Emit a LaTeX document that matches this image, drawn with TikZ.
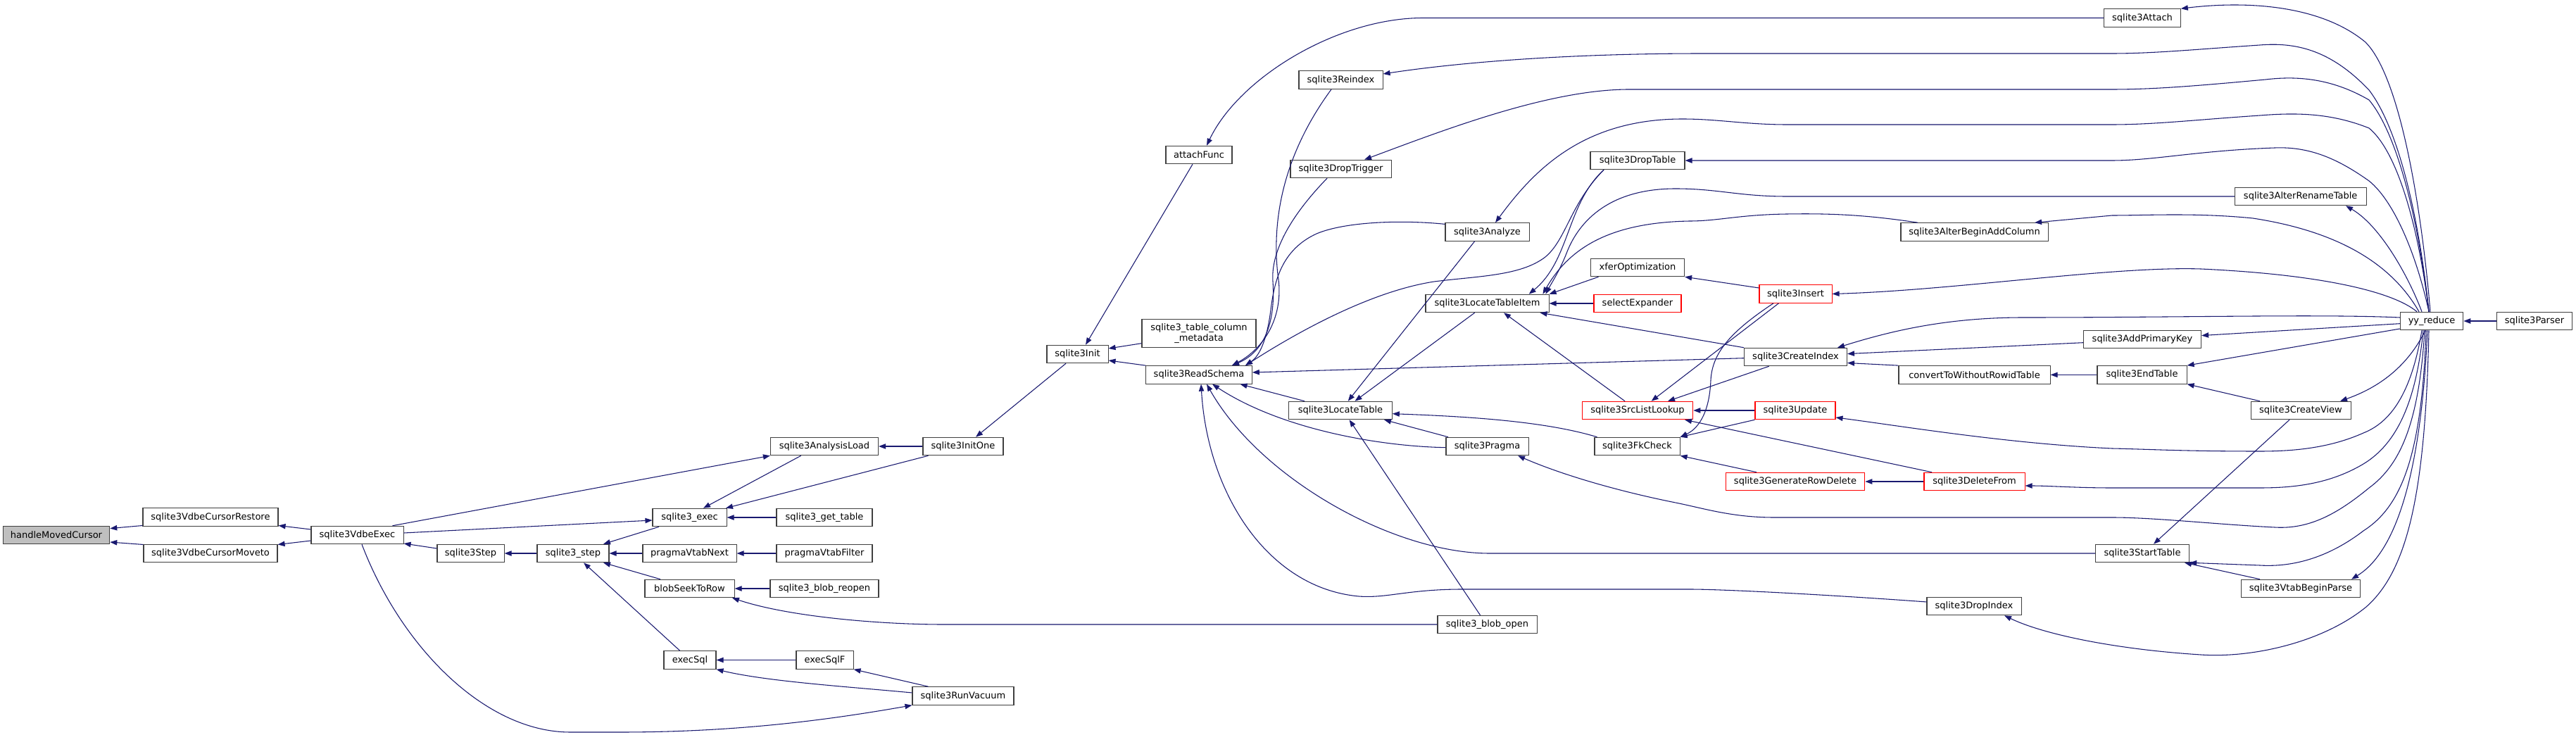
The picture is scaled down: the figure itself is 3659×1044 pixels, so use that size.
\documentclass[tikz,border=0pt]{standalone}
\usepackage{fontspec}
\setmainfont{DejaVu Sans}
\usetikzlibrary{arrows.meta}
\definecolor{edgec}{HTML}{191970}
\definecolor{boxc}{HTML}{404040}
\definecolor{grayf}{HTML}{BFBFBF}
\definecolor{redc}{HTML}{FF0000}
\newcommand\dgfont{\fontsize{9.75}{11}\selectfont}
\begin{document}
\begin{tikzpicture}[x=0.75pt,y=-0.75pt,
  bx/.style={draw=boxc,fill=white,line width=0.8pt,minimum height=19.1pt,inner sep=0pt,font=\dgfont},
  rbx/.style={bx,draw=redc},
  gbx/.style={bx,fill=grayf},
  edg/.style={draw=edgec,line width=0.8pt,-{Triangle[length=7.5pt,width=5.5pt]}}]
\fill[white] (0,0) rectangle (3659,1044);
\useasboundingbox (0,0) rectangle (3659,1044);
% nodes
\node[gbx,minimum width=113.6pt] (hmc) at (80,760) {handleMovedCursor};
\node[bx,minimum width=144pt] (cres) at (299,734.5) {sqlite3VdbeCursorRestore};
\node[bx,minimum width=142.5pt] (cmov) at (299,786) {sqlite3VdbeCursorMoveto};
\node[bx,minimum width=98.3pt] (vexec) at (507.5,760) {sqlite3VdbeExec};
\node[bx,minimum width=71.3pt] (step) at (668.5,786) {sqlite3Step};
\node[bx,minimum width=76.5pt] (ustep) at (814,786) {sqlite3\_step};
\node[bx,minimum width=78.8pt] (uexec) at (979.5,735) {sqlite3\_exec};
\node[bx,minimum width=99.8pt] (vnext) at (979.5,786) {pragmaVtabNext};
\node[bx,minimum width=95.3pt] (bseek) at (979.5,836) {blobSeekToRow};
\node[bx,minimum width=55.5pt] (esql) at (980,937.5) {execSql};
\node[bx,minimum width=114.8pt] (aload) at (1171,634) {sqlite3AnalysisLoad};
\node[bx,minimum width=102pt] (gett) at (1171,735) {sqlite3\_get\_table};
\node[bx,minimum width=102pt] (vfilt) at (1171,786) {pragmaVtabFilter};
\node[bx,minimum width=115.5pt] (breo) at (1171,836) {sqlite3\_blob\_reopen};
\node[bx,minimum width=60.8pt] (esqlf) at (1171.5,937.5) {execSqlF};
\node[bx,minimum width=85.5pt] (initone) at (1368,634) {sqlite3InitOne};
\node[bx,minimum width=108pt] (vac) at (1368,988.5) {sqlite3RunVacuum};
\node[bx,minimum width=65.3pt] (init) at (1530.5,503) {sqlite3Init};
\node[bx,minimum width=112.9pt] (rs) at (1703,532.4) {sqlite3ReadSchema};
\node[bx,minimum width=70.5pt] (af) at (1703,220) {attachFunc};
\node[bx,minimum width=121.5pt,minimum height=30pt,align=center] (meta) at (1703,473.5) {sqlite3\_table\_column\\\_metadata};
\node[bx,minimum width=89.3pt] (reidx) at (1904.5,113.7) {sqlite3Reindex};
\node[bx,minimum width=107.3pt] (dtrig) at (1904.5,240) {sqlite3DropTrigger};
\node[bx,minimum width=109.9pt] (lt) at (1904,583) {sqlite3LocateTable};
\node[bx,minimum width=89.3pt] (ana) at (2112.5,329.5) {sqlite3Analyze};
\node[bx,minimum width=131.3pt] (lti) at (2112.5,431) {sqlite3LocateTableItem};
\node[bx,minimum width=87.8pt] (prag) at (2112.5,634) {sqlite3Pragma};
\node[bx,minimum width=105.8pt] (bopen) at (2112.5,887) {sqlite3\_blob\_open};
\node[bx,minimum width=100.5pt] (dtab) at (2326,228) {sqlite3DropTable};
\node[bx,minimum width=99.8pt] (xfer) at (2326,380) {xferOptimization};
\node[rbx,minimum width=93pt] (sel) at (2326,431) {selectExpander};
\node[rbx,minimum width=118.1pt] (srcl) at (2326,583) {sqlite3SrcListLookup};
\node[bx,minimum width=90.8pt] (fk) at (2325.5,634) {sqlite3FkCheck};
\node[rbx,minimum width=77.3pt] (ins) at (2550.5,417.5) {sqlite3Insert};
\node[bx,minimum width=109.5pt] (cidx) at (2550.5,507) {sqlite3CreateIndex};
\node[rbx,minimum width=85.5pt] (upd) at (2550,583) {sqlite3Update};
\node[rbx,minimum width=148.1pt] (grd) at (2550,684) {sqlite3GenerateRowDelete};
\node[bx,minimum width=156.8pt] (abac) at (2804.5,329.5) {sqlite3AlterBeginAddColumn};
\node[bx,minimum width=161.3pt] (conv) at (2804.5,532.4) {convertToWithoutRowidTable};
\node[rbx,minimum width=107.3pt] (del) at (2804.5,684) {sqlite3DeleteFrom};
\node[bx,minimum width=100.5pt] (didx) at (2804,861) {sqlite3DropIndex};
\node[bx,minimum width=81.4pt] (att) at (3043,25.5) {sqlite3Attach};
\node[bx,minimum width=125.3pt] (apk) at (3043,482) {sqlite3AddPrimaryKey};
\node[bx,minimum width=95.3pt] (etab) at (3042.5,532.4) {sqlite3EndTable};
\node[bx,minimum width=100.1pt] (stab) at (3043,786) {sqlite3StartTable};
\node[bx,minimum width=140pt] (art) at (3267.7,279) {sqlite3AlterRenameTable};
\node[bx,minimum width=106.5pt] (cview) at (3268,583) {sqlite3CreateView};
\node[bx,minimum width=127.2pt] (vbp) at (3268,836) {sqlite3VtabBeginParse};
\node[bx,minimum width=67.1pt] (yy) at (3454,456) {yy\_reduce};
\node[bx,minimum width=80.3pt] (parser) at (3600,456) {sqlite3Parser};
% left part
\draw[edg] (cres.west |- 0,746.5) -- (hmc.east |- 0,750.6);
\draw[edg] (cmov.west |- 0,773.5) -- (hmc.east |- 0,770);
\draw[edg] (vexec.west |- 0,752) -- (cres.east |- 0,746.5);
\draw[edg] (vexec.west |- 0,768) -- (cmov.east |- 0,773.5);
\draw[edg] (557.5,0 |- vexec.north) -- (aload.south west);
\draw[edg] (vexec.east |- 0,757) -- (uexec.west |- 0,739);
\draw[edg] (step.west |- 0,779) -- (vexec.east |- 0,772);
\draw[edg] (514,0 |- vexec.south) .. controls (570,920) and (690,1040) .. (810,1040) -- (880,1040) .. controls (1050,1040) and (1180,1022) .. (vac.south west);
\draw[edg] (ustep) -- (step);
\draw[edg] (936,0 |- uexec.south) -- (857,0 |- ustep.north);
\draw[edg] (vnext) -- (ustep);
\draw[edg] (938,0 |- bseek.north) -- (857,0 |- ustep.south);
\draw[edg] (965.7,0 |- esql.north) -- (829,0 |- ustep.south);
\draw[edg] (1137.7,0 |- aload.south) -- (999,0 |- uexec.north);
\draw[edg] (1318.6,0 |- initone.south) -- (1031,0 |- uexec.north);
\draw[edg] (gett) -- (uexec);
\draw[edg] (vfilt) -- (vnext);
\draw[edg] (breo) -- (bseek);
\draw[edg] (bopen.west) -- (1340,887) .. controls (1250,887) and (1120,876) .. (1040,0 |- bseek.south);
\draw[edg] (esqlf) -- (esql);
\draw[edg] (vac.west |- 0,984) .. controls (1200,975) and (1090,968) .. (esql.south east);
\draw[edg] (1318.6,0 |- vac.north) -- (esqlf.south east);
\draw[edg] (initone) -- (aload);
\draw[edg] (1514,0 |- init.south) -- (1386,0 |- initone.north);
\draw[edg] (1694,0 |- af.south) -- (1542,0 |- init.north);
\draw[edg] (meta.west |- 0,487.7) -- (init.east |- 0,495);
\draw[edg] (rs.north west) -- (init.east |- 0,512);
\draw[edg] (att.west) -- (2021,25.5) .. controls (1900,25.5) and (1760,110) .. (1714,0 |- af.north);
% yy_reduce fan
\draw[edg] (3452,0 |- yy.north) .. controls (3440,300) and (3410,110) .. (3360,60) .. controls (3300,10) and (3200,0) .. (att.north east);
\draw[edg] (3450,0 |- yy.north) .. controls (3435,300) and (3405,180) .. (3365,128) .. controls (3310,70) and (3260,60) .. (3210,64) .. controls (3120,70) and (3060,76) .. (3000,76) -- (2420,76) .. controls (2200,76) and (2050,92) .. (reidx.east |- 0,105);
\draw[edg] (3450,0 |- yy.north) .. controls (3435,310) and (3405,190) .. (3365,142) .. controls (3310,110) and (3260,108) .. (3218,113) .. controls (3120,122) and (3060,127) .. (3000,127) -- (2314,127) .. controls (2200,127) and (2050,185) .. (1938,0 |- dtrig.north);
\draw[edg] (3450,0 |- yy.north) .. controls (3435,320) and (3405,215) .. (3365,182) .. controls (3310,160) and (3260,160) .. (3210,164) .. controls (3120,170) and (3060,177) .. (3000,177) -- (2538,177) .. controls (2480,177) and (2440,169) .. (2390,169) .. controls (2250,169) and (2180,240) .. (2124,0 |- ana.north);
\draw[edg] (3450,0 |- yy.north) .. controls (3432,360) and (3400,285) .. (3365,257) .. controls (3320,225) and (3280,208) .. (3231,210) .. controls (3120,214) and (3060,228) .. (3000,228) -- (dtab.east);
\draw[edg] (3440,0 |- yy.north) .. controls (3420,390) and (3380,320) .. (3332,0 |- art.south);
\draw[edg] (3436,0 |- yy.north) .. controls (3400,380) and (3330,330) .. (3200,310) .. controls (3120,302) and (3050,306) .. (3000,306) -- (2890,0 |- abac.north);
\draw[edg] (3433,0 |- yy.north) .. controls (3400,415) and (3300,390) .. (3126,382) .. controls (3000,378) and (2780,412) .. (ins.east);
\draw[edg] (yy.west |- 0,451) .. controls (3300,446) and (3100,451) .. (2874,451) .. controls (2760,451) and (2680,472) .. (2610,0 |- cidx.north);
\draw[edg] (yy.west |- 0,459.7) -- (apk.east |- 0,476.6);
\draw[edg] (yy.west |- 0,467) -- (etab.north east);
\draw[edg] (3445,0 |- yy.south) .. controls (3420,520) and (3380,550) .. (3324,0 |- cview.north);
\draw[edg] (3440,0 |- yy.south) .. controls (3425,560) and (3395,600) .. (3357,615) .. controls (3310,636) and (3260,641) .. (3210,641) .. controls (3100,641) and (3050,638) .. (3000,637) .. controls (2850,630) and (2700,605) .. (upd.east |- 0,593);
\draw[edg] (3442,0 |- yy.south) .. controls (3432,570) and (3405,630) .. (3357,659) .. controls (3310,687) and (3260,693) .. (3210,693) -- (3000,693) .. controls (2950,693) and (2910,690) .. (del.east |- 0,690);
\draw[edg] (3444,0 |- yy.south) .. controls (3436,600) and (3410,660) .. (3365,693) .. controls (3320,730) and (3280,752) .. (3231,749) .. controls (3150,745) and (3060,735) .. (3000,735) -- (2520,735) .. controls (2460,735) and (2420,722) .. (2380,714) .. controls (2300,698) and (2220,675) .. (2156,0 |- prag.south);
\draw[edg] (3446,0 |- yy.south) .. controls (3440,650) and (3410,720) .. (3357,754) .. controls (3310,790) and (3260,806) .. (3210,803) -- (stab.south east);
\draw[edg] (3448,0 |- yy.south) .. controls (3440,650) and (3410,780) .. (3340,0 |- vbp.north);
\draw[edg] (3450,0 |- yy.south) .. controls (3445,700) and (3420,810) .. (3361,862) .. controls (3300,912) and (3200,935) .. (3126,930) .. controls (3000,922) and (2900,900) .. (2847,0 |- didx.south);
\draw[edg] (parser) -- (yy);
% into ReadSchema
\draw[edg] (1891,0 |- reidx.south) .. controls (1830,210) and (1805,300) .. (1815,390) .. controls (1825,450) and (1795,495) .. (1750,0 |- rs.north);
\draw[edg] (1885,0 |- dtrig.south) .. controls (1830,310) and (1805,360) .. (1808,400) .. controls (1812,460) and (1795,500) .. (1750,0 |- rs.north);
\draw[edg] (ana.west |- 0,318.4) .. controls (1990,312) and (1910,315) .. (1870,332) .. controls (1820,355) and (1810,400) .. (1805,440) .. controls (1800,480) and (1790,505) .. (1769,0 |- rs.north);
\draw[edg] (2278,0 |- dtab.south) .. controls (2230,290) and (2225,340) .. (2195,365) .. controls (2160,392) and (2100,392) .. (2037,400) .. controls (1940,415) and (1830,480) .. (1769,0 |- rs.north);
\draw[edg] (cidx.west |- 0,508.7) -- (rs.east |- 0,529);
\draw[edg] (1853,0 |- lt.north) -- (1761.5,0 |- rs.south);
\draw[edg] (prag.west |- 0,635.7) .. controls (1960,634) and (1820,610) .. (1722,0 |- rs.south);
\draw[edg] (stab.west) -- (2116,786) .. controls (1980,786) and (1790,680) .. (1714,0 |- rs.south);
\draw[edg] (didx.west |- 0,855) .. controls (2600,845) and (2450,837) .. (2400,837) -- (2077,837) .. controls (2000,837) and (1970,850) .. (1930,847) .. controls (1800,835) and (1715,700) .. (1706,0 |- rs.south);
% into LocateTable
\draw[edg] (2094.6,0 |- ana.south) -- (1914.7,0 |- lt.north);
\draw[edg] (2094.6,0 |- lti.south) -- (1924.5,0 |- lt.north);
\draw[edg] (2057,0 |- prag.north) -- (1966,0 |- lt.south);
\draw[edg] (2268.5,0 |- fk.north) .. controls (2200,600) and (2100,592) .. (lt.east |- 0,587.7);
\draw[edg] (2102.5,0 |- bopen.north) -- (1916.6,0 |- lt.south);
% into LocateTableItem
\draw[edg] (2278,0 |- dtab.south) .. controls (2225,290) and (2230,370) .. (2171.7,0 |- lti.north);
\draw[edg] (art.west) -- (2538,279) .. controls (2470,279) and (2440,268) .. (2380,268) .. controls (2280,268) and (2240,320) .. (2225,360) .. controls (2215,385) and (2205,400) .. (2195.4,0 |- lti.north);
\draw[edg] (2724,0 |- abac.north) .. controls (2650,305) and (2600,303) .. (2538,304) .. controls (2470,305) and (2440,314) .. (2400,314) .. controls (2290,316) and (2230,350) .. (2191.4,0 |- lti.north);
\draw[edg] (2270.5,0 |- xfer.south) -- (lti.north east);
\draw[edg] (sel) -- (lti);
\draw[edg] (cidx.north west) -- (2187.5,0 |- lti.south);
\draw[edg] (2308,0 |- srcl.north) -- (2136,0 |- lti.south);
% middle-right
\draw[edg] (2526.5,0 |- ins.south) -- (2345.6,0 |- srcl.north);
\draw[edg] (2519,0 |- ins.south) .. controls (2460,470) and (2432,500) .. (2430,540) .. controls (2428,590) and (2410,610) .. (fk.north east);
\draw[edg] (upd.west) -- (srcl.east);
\draw[edg] (upd.south west) -- (fk.north east);
\draw[edg] (2512.7,0 |- cidx.south) -- (2369,0 |- srcl.north);
\draw[edg] (2744,0 |- del.north) -- (2393,0 |- srcl.south);
\draw[edg] (2495,0 |- grd.north) -- (fk.south east);
\draw[edg] (del) -- (grd);
\draw[edg] (ins.west |- 0,409) -- (xfer.south east);
\draw[edg] (apk.west |- 0,486.7) -- (cidx.east |- 0,502.6);
\draw[edg] (conv.north west) -- (cidx.east |- 0,515.5);
\draw[edg] (etab) -- (conv);
\draw[edg] (3210,0 |- cview.north) -- (etab.south east);
\draw[edg] (3252,0 |- cview.south) -- (3059,0 |- stab.north);
\draw[edg] (3210,0 |- vbp.north) -- (3103,0 |- stab.south);
\end{tikzpicture}
\end{document}
